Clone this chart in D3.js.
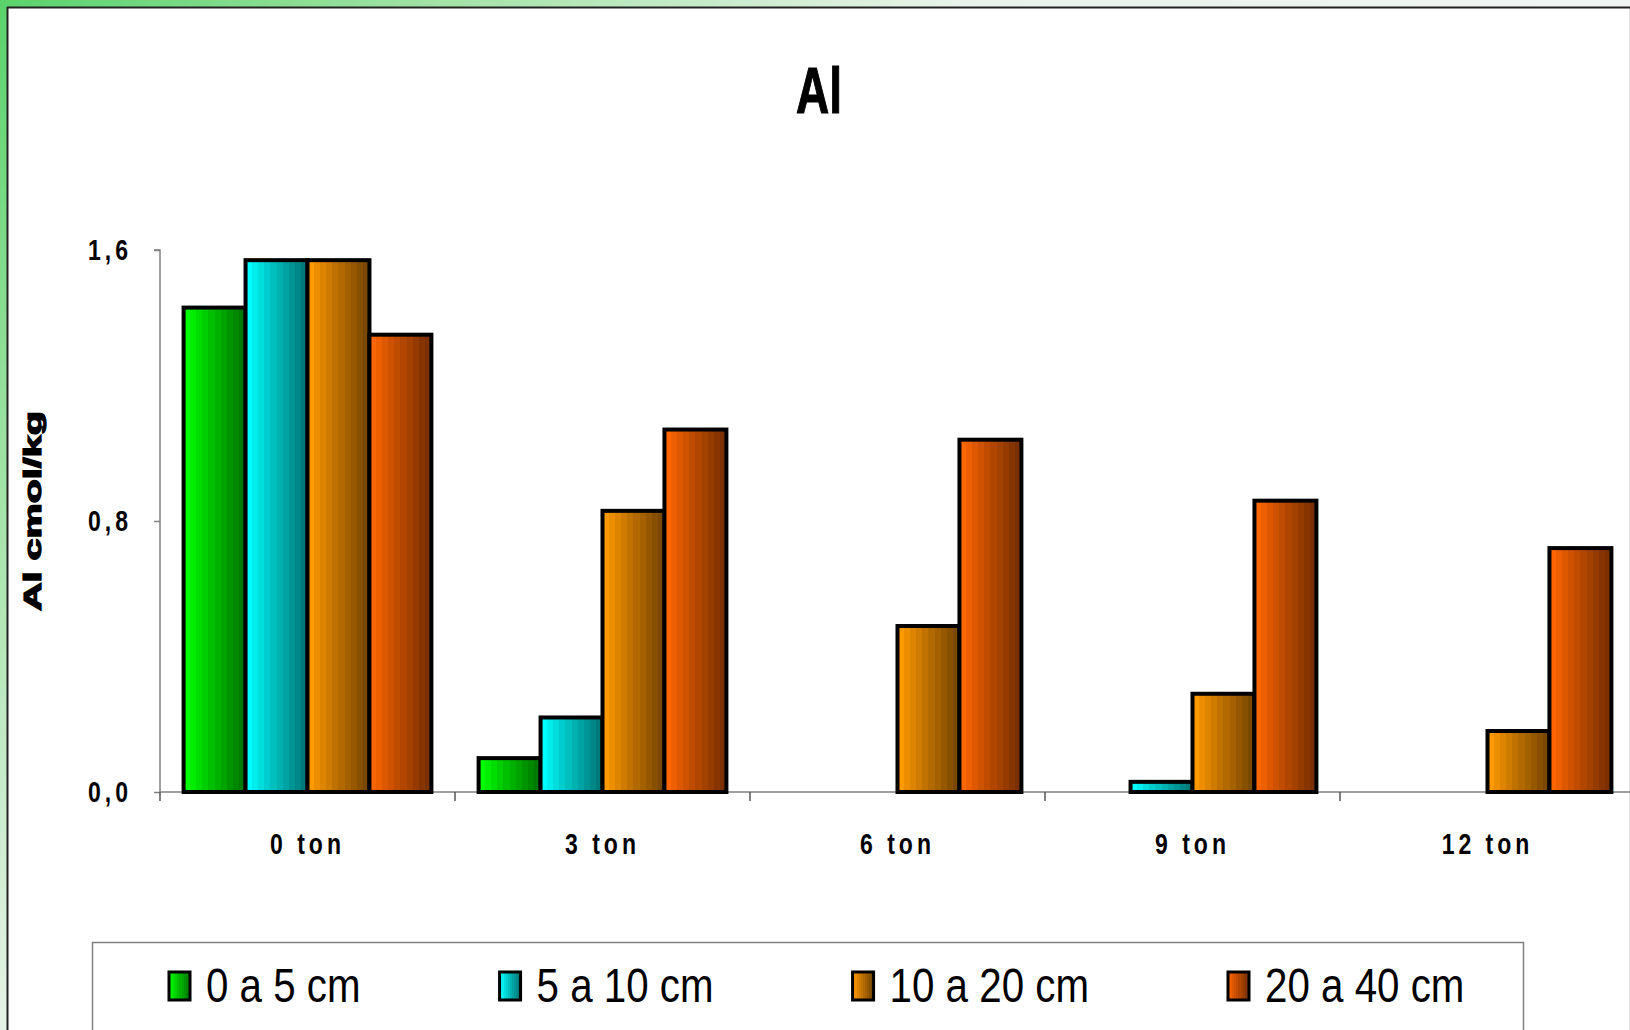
<!DOCTYPE html>
<html>
<head>
<meta charset="utf-8">
<script src="https://cdn.jsdelivr.net/npm/d3@7"></script>
<style>
  html, body { margin: 0; padding: 0; background: #fff; }
  svg { display: block; }
  text { font-family: "Liberation Sans", Arial, sans-serif; }
</style>
</head>
<body>
<svg id="chart" width="1630" height="1030"></svg>
<script>
// ---- data ----
const title = "Al";
const yTitle = "Al cmol/kg";
const categories = ["0 ton", "3 ton", "6 ton", "9 ton", "12 ton"];
const seriesNames = ["0 a 5 cm", "5 a 10 cm", "10 a 20 cm", "20 a 40 cm"];
const s0a5 = [1.43, 0.10, 0, 0, 0];
const s5a10 = [1.57, 0.22, 0, 0.03, 0];
const s10a20 = [1.57, 0.83, 0.49, 0.29, 0.18];
const s20a40 = [1.35, 1.07, 1.04, 0.86, 0.72];
const yTicks = [0, 0.8, 1.6];
const yTickLabels = ["0,0", "0,8", "1,6"];

const seriesValues = [s0a5, s5a10, s10a20, s20a40];
const colorsLight = ["#00ff00", "#00ffff", "#ff9900", "#ff6600"];
const colorsDark = ["#007a00", "#007a7a", "#7a4800", "#7a3000"];

const svg = d3.select("#chart");
const defs = svg.append("defs");

// background gradient
const bg = defs.append("linearGradient").attr("id", "bg")
  .attr("gradientUnits", "userSpaceOnUse")
  .attr("x1", 0).attr("y1", 0).attr("x2", 1100).attr("y2", 1000);
bg.append("stop").attr("offset", 0).attr("stop-color", "#5ad26b");
bg.append("stop").attr("offset", 0.22).attr("stop-color", "#a2e3a6");
bg.append("stop").attr("offset", 0.48).attr("stop-color", "#eaf3eb");
bg.append("stop").attr("offset", 1).attr("stop-color", "#f4f5f8");
svg.append("rect").attr("width", 1630).attr("height", 1030).attr("fill", "url(#bg)");

// white chart area + frame
svg.append("rect").attr("x", 8).attr("y", 8).attr("width", 1621).attr("height", 1030).attr("fill", "#fff");
svg.append("line").attr("x1", 7).attr("y1", 7.5).attr("x2", 1630).attr("y2", 7.5).attr("stroke", "#222").attr("stroke-width", 2);
svg.append("line").attr("x1", 7.5).attr("y1", 7).attr("x2", 7.5).attr("y2", 1030).attr("stroke", "#222").attr("stroke-width", 2);
svg.append("line").attr("x1", 1629.5).attr("y1", 9).attr("x2", 1629.5).attr("y2", 1030).attr("stroke", "#e4e4e4").attr("stroke-width", 1);

// banded bar gradients
function bandedGradient(id, light, dark) {
  const g = defs.append("linearGradient").attr("id", id)
    .attr("x1", 0).attr("y1", 0).attr("x2", 1).attr("y2", 0);
  const n = 10;
  const interp = d3.interpolateRgb(light, dark);
  for (let i = 0; i < n; i++) {
    const t = i === 0 ? 0 : Math.min(1, (i) / (n - 1));
    const c = interp(Math.pow(t, 0.9));
    g.append("stop").attr("offset", i / n).attr("stop-color", c);
    g.append("stop").attr("offset", (i + 1) / n).attr("stop-color", c);
  }
}
seriesNames.forEach((s, i) => bandedGradient("grad" + i, colorsLight[i], colorsDark[i]));

// scales
const plot = { left: 160, right: 1635, top: 250, bottom: 792 };
const x0 = d3.scaleBand().domain(categories).range([plot.left, plot.right]).padding(0);
const gap = x0.bandwidth() * 0.16;
const x1 = d3.scaleBand().domain(seriesNames).range([gap / 2, x0.bandwidth() - gap / 2]).padding(0);
const y = d3.scaleLinear().domain([0, 1.6]).range([plot.bottom, plot.top]);

// title
svg.append("text")
  .attr("transform", "translate(819,113) scale(1,1.4)")
  .attr("text-anchor", "middle")
  .attr("font-size", 46).attr("font-weight", "bold").attr("fill", "#000")
  .attr("stroke", "#000").attr("stroke-width", 0.8)
  .text(title);

// y axis
const yAxis = d3.axisLeft(y).tickValues(yTicks).tickSize(6).tickFormat("");
const gy = svg.append("g").attr("transform", `translate(${plot.left},0)`).call(yAxis);
gy.select(".domain").attr("stroke", "#808080").attr("stroke-width", 1.5).attr("d", `M-6,${plot.top}H0V${plot.bottom}`);
gy.selectAll(".tick line").attr("stroke", "#808080").attr("stroke-width", 1.5);
yTicks.forEach((v, i) => {
  svg.append("text")
    .attr("transform", `translate(132,${y(v) + 10}) scale(1,1.3)`)
    .attr("text-anchor", "end")
    .attr("font-size", 23).attr("font-weight", "bold").attr("letter-spacing", 4)
    .attr("fill", "#000")
    .text(yTickLabels[i]);
});

// y title
svg.append("text")
  .attr("transform", "translate(41,511) rotate(-90)")
  .attr("text-anchor", "middle")
  .attr("font-size", 24).attr("font-weight", "900").attr("fill", "#000")
  .attr("stroke", "#000").attr("stroke-width", 1.2)
  .attr("textLength", 200).attr("lengthAdjust", "spacingAndGlyphs")
  .text(yTitle);

// x axis
svg.append("line").attr("x1", plot.left).attr("x2", 1630).attr("y1", plot.bottom).attr("y2", plot.bottom)
  .attr("stroke", "#808080").attr("stroke-width", 1.5);
const boundaries = categories.map(c => x0(c));
svg.selectAll(".xtick").data(boundaries).enter().append("line")
  .attr("x1", d => d).attr("x2", d => d)
  .attr("y1", plot.bottom).attr("y2", plot.bottom + 9)
  .attr("stroke", "#555").attr("stroke-width", 1.5);
categories.forEach(c => {
  svg.append("text")
    .attr("transform", `translate(${x0(c) + x0.bandwidth() / 2},854) scale(1,1.3)`)
    .attr("text-anchor", "middle")
    .attr("font-size", 23).attr("font-weight", "bold").attr("letter-spacing", 4)
    .attr("fill", "#000")
    .text(c);
});

// bars
const barData = [];
categories.forEach((c, ci) => {
  seriesNames.forEach((s, si) => {
    const v = seriesValues[si][ci];
    if (v > 0) barData.push({ c, s, si, v });
  });
});
svg.append("g").selectAll("rect").data(barData).enter().append("rect")
  .attr("x", d => x0(d.c) + x1(d.s))
  .attr("y", d => y(d.v))
  .attr("width", x1.bandwidth())
  .attr("height", d => y(0) - y(d.v))
  .attr("fill", d => `url(#grad${d.si})`)
  .attr("stroke", "#000").attr("stroke-width", 4);

// legend
svg.append("rect").attr("x", 92.5).attr("y", 942.5).attr("width", 1431).attr("height", 120)
  .attr("fill", "#fff").attr("stroke", "#808080").attr("stroke-width", 1.5);
let lx = 169;
const sx = 0.84;
seriesNames.forEach((s, i) => {
  svg.append("rect").attr("x", lx).attr("y", 972).attr("width", 21).attr("height", 28)
    .attr("fill", `url(#grad${i})`).attr("stroke", "#000").attr("stroke-width", 3);
  const tx = lx + 37;
  const t = svg.append("text")
    .attr("transform", `translate(${tx},1002) scale(${sx},1)`)
    .attr("font-size", 48).attr("fill", "#000")
    .text(s);
  const w = t.node().getComputedTextLength() * sx;
  lx = tx + w + 139;
});
</script>
</body>
</html>
